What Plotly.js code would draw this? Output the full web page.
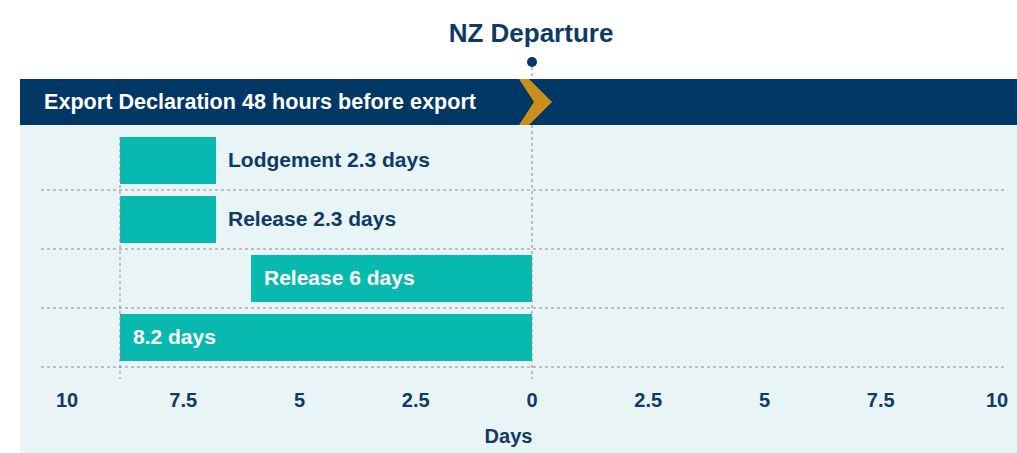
<!DOCTYPE html>
<html>
<head>
<meta charset="utf-8">
<script src="https://cdn.plot.ly/plotly-3.0.1.min.js"></script>
<style>html,body{margin:0;padding:0;background:#fff;}#chart{width:1017px;height:453px;}</style>
</head>
<body>
<div id="chart"></div>
<script>
// ---- data (days, negative = before NZ departure) ----
const categories = ["Lodgement", "Release (2.3 days)", "Release (6 days)", "Total"];
const barStart = [-8.86, -8.86, -6.04, -8.86];
const barEnd = [-6.80, -6.80, 0, 0];
const barLabels = ["Lodgement 2.3 days", "Release 2.3 days", "Release 6 days", "8.2 days"];
const labelInside = [false, false, true, true];
const tickVals = [-10, -7.5, -5, -2.5, 0, 2.5, 5, 7.5, 10];
const tickText = ["10", "7.5", "5", "2.5", "0", "2.5", "5", "7.5", "10"];
const markerDay = 0;          // NZ departure
const periodStart = -8.86;    // start of the window
const titleText = "NZ Departure";
const headerText = "Export Declaration 48 hours before export";
const axisTitle = "Days";

// ---- styles ----
const NAVY = "#003764", TEXT = "#0e3a66", TEAL = "#08b9af", GOLD = "#c8901a", PANEL = "#e8f4f5", DOT = "#8c8c8c";
const FONT = "Liberation Sans, Arial, sans-serif";
const W = 1017, PH = 378;               // figure width, plot-area height (margin b = 75)
const px = x => x / W;                  // pixel -> paper x
const py = y => (PH - y) / PH;          // pixel -> paper y

const trace = {
  type: "bar", orientation: "h",
  y: categories,
  base: barStart,
  x: barEnd.map((e, i) => e - barStart[i]),
  width: 0.78,
  marker: {color: TEAL, line: {width: 0}},
  hoverinfo: "skip", showlegend: false
};

const annotations = barLabels.map((t, i) => ({
  text: t, xref: "x", yref: "y",
  x: labelInside[i] ? barStart[i] : barEnd[i],
  y: categories[i], xanchor: "left", yanchor: "middle",
  xshift: labelInside[i] ? 11 : 10, yshift: 1, showarrow: false,
  font: {family: FONT, size: 21, weight: "bold", color: labelInside[i] ? "#ffffff" : TEXT}
}));
annotations.push({
  text: headerText, xref: "paper", yref: "paper", x: px(42), y: py(101),
  xanchor: "left", yanchor: "middle", showarrow: false,
  font: {family: FONT, size: 21.6, weight: "bold", color: "#ffffff"}
});

const shapes = [
  // light panel
  {type: "rect", layer: "below", xref: "paper", yref: "paper", x0: px(20), x1: 1, y0: py(453), y1: py(125), fillcolor: PANEL, line: {width: 0}},
  // header band
  {type: "rect", layer: "below", xref: "paper", yref: "paper", x0: px(20), x1: 1, y0: py(125), y1: py(79), fillcolor: NAVY, line: {width: 0}},
  // chevron at departure
  {type: "path", layer: "below", xref: "x", xsizemode: "pixel", xanchor: markerDay,
   yref: "paper", ysizemode: "pixel", yanchor: py(102),
   path: "M -13 23 L -3 23 L 20 0 L -3 -23 L -13 -23 L 2 0 Z", fillcolor: GOLD, line: {width: 0}},
  // departure dot
  {type: "circle", xref: "x", xsizemode: "pixel", xanchor: markerDay, x0: -5, x1: 5,
   yref: "paper", ysizemode: "pixel", yanchor: py(62), y0: -5, y1: 5, fillcolor: NAVY, line: {width: 0}},
  // dotted line dot -> header
  {type: "line", xref: "x", yref: "paper", x0: markerDay, x1: markerDay, y0: py(67), y1: py(79), line: {color: DOT, width: 1, dash: "dot"}},
  // vertical dotted lines through the rows
  {type: "line", layer: "above", xref: "x", yref: "paper", x0: markerDay, x1: markerDay, y0: py(125), y1: py(379), line: {color: DOT, width: 1, dash: "dot"}},
  {type: "line", layer: "above", xref: "x", yref: "paper", x0: periodStart, x1: periodStart, y0: py(137), y1: py(379), line: {color: DOT, width: 1, dash: "dot"}}
];
// horizontal separators between rows
categories.forEach((c, i) => {
  shapes.push({type: "line", layer: "below", xref: "paper", yref: "y", x0: px(41), x1: px(1004), y0: i + 0.5, y1: i + 0.5,
    line: {color: DOT, width: 1, dash: "dot"}});
});

const layout = {
  width: 1017, height: 453,
  margin: {l: 0, r: 0, t: 0, b: 75, pad: 0},
  paper_bgcolor: "#ffffff", plot_bgcolor: "rgba(0,0,0,0)",
  title: {text: titleText, x: px(531), xanchor: "center", xref: "paper", y: 1 - 33 / 453, yanchor: "middle", yref: "container",
          font: {family: FONT, size: 26, weight: "bold", color: TEXT}},
  xaxis: {
    range: [-532 / 46.5, 485 / 46.5], fixedrange: true,
    tickmode: "array", tickvals: tickVals, ticktext: tickText,
    tickfont: {family: FONT, size: 20, weight: "bold", color: TEXT},
    ticks: "outside", ticklen: 4, tickcolor: "rgba(0,0,0,0)",
    showgrid: false, zeroline: false, showline: false,
    title: {text: axisTitle, standoff: 18, font: {family: FONT, size: 20, weight: "bold", color: TEXT}}
  },
  yaxis: {
    type: "category", range: [3.6864, -2.7203], fixedrange: true,
    showticklabels: false, showgrid: false, zeroline: false, showline: false, ticks: ""
  },
  bargap: 0, annotations: annotations, shapes: shapes, showlegend: false
};

Plotly.newPlot("chart", [trace], layout, {staticPlot: true, displayModeBar: false});
</script>
</body>
</html>
